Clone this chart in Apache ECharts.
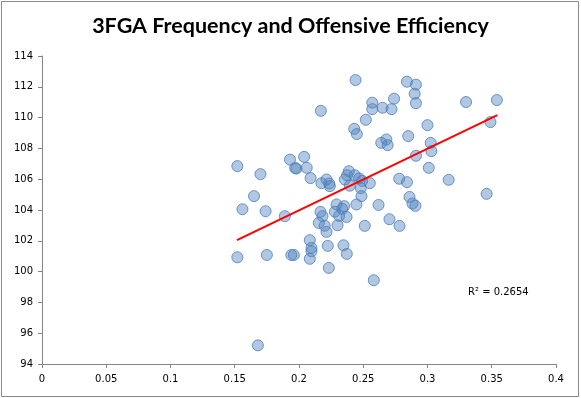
<!DOCTYPE html>
<html>
<head>
<meta charset="utf-8">
<script src="https://cdn.jsdelivr.net/npm/echarts@6/dist/echarts.min.js"></script>
<style>
  html, body { margin: 0; padding: 0; background: #fff; }
  #chart { width: 581px; height: 398px; }
</style>
</head>
<body>
<div id="chart"></div>
<script>
// 3PA rate per team vs offensive rating
var fgaFreq = [
    0.152, 0.170, 0.165, 0.156, 0.174, 0.189, 0.193, 0.197, 0.198, 0.152,
    0.175, 0.194, 0.196, 0.168, 0.244, 0.217, 0.284, 0.291, 0.290, 0.291,
    0.330, 0.354, 0.257, 0.257, 0.265, 0.272, 0.274, 0.252, 0.243, 0.245,
    0.300, 0.285, 0.264, 0.268, 0.269, 0.349, 0.3025, 0.303, 0.291, 0.301,
    0.3165, 0.346, 0.278, 0.284, 0.204, 0.206, 0.209, 0.2175, 0.2214, 0.2235,
    0.224, 0.2388, 0.2374, 0.2357, 0.2395, 0.2434, 0.2468, 0.2491, 0.2551, 0.2481,
    0.2486, 0.286, 0.2883, 0.2906, 0.2619, 0.2447, 0.2292, 0.2351, 0.2337, 0.2279,
    0.2167, 0.2183, 0.2312, 0.237, 0.2704, 0.230, 0.2512, 0.2154, 0.220, 0.2214,
    0.2782, 0.2084, 0.2097, 0.2097, 0.2084, 0.2224, 0.2346, 0.2372, 0.2232, 0.2582
];
var offEff = [
    106.85, 106.33, 104.9, 104.05, 103.92, 103.6, 107.27, 106.72, 106.69, 100.93,
    101.08, 101.08, 101.08, 95.21, 112.44, 110.44, 112.33, 112.14, 111.55, 110.94,
    111.01, 111.14, 110.97, 110.55, 110.64, 110.55, 111.23, 109.86, 109.27, 108.93,
    109.51, 108.8, 108.36, 108.58, 108.21, 109.71, 108.36, 107.82, 107.52, 106.74,
    105.96, 105.05, 106.03, 105.81, 107.45, 106.74, 106.07, 105.74, 105.98, 105.72,
    105.55, 106.52, 106.26, 105.98, 105.58, 106.26, 106.05, 105.89, 105.74, 105.42,
    104.9, 104.85, 104.42, 104.27, 104.33, 104.36, 104.36, 104.25, 104.08, 103.89,
    103.88, 103.6, 103.62, 103.55, 103.4, 103.01, 102.97, 103.16, 102.98, 102.58,
    102.97, 102.04, 101.54, 101.32, 100.83, 101.67, 101.71, 101.15, 100.24, 99.44
];

// linear trendline ends
var trendX = [0.1517, 0.3544];
var trendY = [102.04, 110.16];
var rSquared = '0.2654';

var points = fgaFreq.map(function (x, i) { return [x, offEff[i]]; });
var trendPts = trendX.map(function (x, i) { return [x, trendY[i]]; });

var chartDom = document.getElementById('chart');
var myChart = echarts.init(chartDom);
var option;

option = {
    animation: false,
    backgroundColor: '#fff',
    title: {
        text: '3FGA Frequency and Offensive Efficiency',
        left: 'center',
        top: 10,
        textStyle: {
            fontFamily: 'Lato',
            fontSize: 21.5,
            fontWeight: 'bold',
            color: '#000'
        }
    },
    grid: {
        left: 42,
        right: 25,
        top: 56,
        bottom: 34
    },
    xAxis: {
        type: 'value',
        min: 0,
        max: 0.4,
        interval: 0.05,
        splitLine: {show: false},
        axisLine: {show: true, lineStyle: {color: '#868686'}},
        axisTick: {show: true, length: 4, lineStyle: {color: '#868686'}},
        axisLabel: {
            fontFamily: 'DejaVu Sans',
            fontSize: 10,
            color: '#000',
            margin: 10
        }
    },
    yAxis: {
        type: 'value',
        min: 94,
        max: 114,
        interval: 2,
        splitLine: {show: false},
        axisLine: {show: true, lineStyle: {color: '#868686'}},
        axisTick: {show: true, length: 4, lineStyle: {color: '#868686'}},
        axisLabel: {
            fontFamily: 'DejaVu Sans',
            fontSize: 10,
            color: '#000',
            margin: 9
        }
    },
    graphic: [
        {
            type: 'rect',
            shape: {x: 1.5, y: 1.5, width: 577, height: 395},
            style: {fill: 'none', stroke: '#888', lineWidth: 1},
            silent: true
        },
        {
            type: 'text',
            left: 468,
            top: 287,
            style: {
                text: 'R² = ' + rSquared,
                fontFamily: 'DejaVu Sans',
                fontSize: 10,
                fill: '#000'
            }
        }
    ],
    series: [
        {
            name: 'teams',
            type: 'scatter',
            symbolSize: 11,
            data: points,
            itemStyle: {
                color: 'rgba(79,129,189,0.55)',
                borderColor: '#4a7ebb',
                borderWidth: 1
            }
        },
        {
            name: 'trend',
            type: 'line',
            data: trendPts,
            symbol: 'none',
            z: 3,
            lineStyle: {color: '#ff0000', width: 2}
        }
    ]
};

option && myChart.setOption(option);
</script>
</body>
</html>
